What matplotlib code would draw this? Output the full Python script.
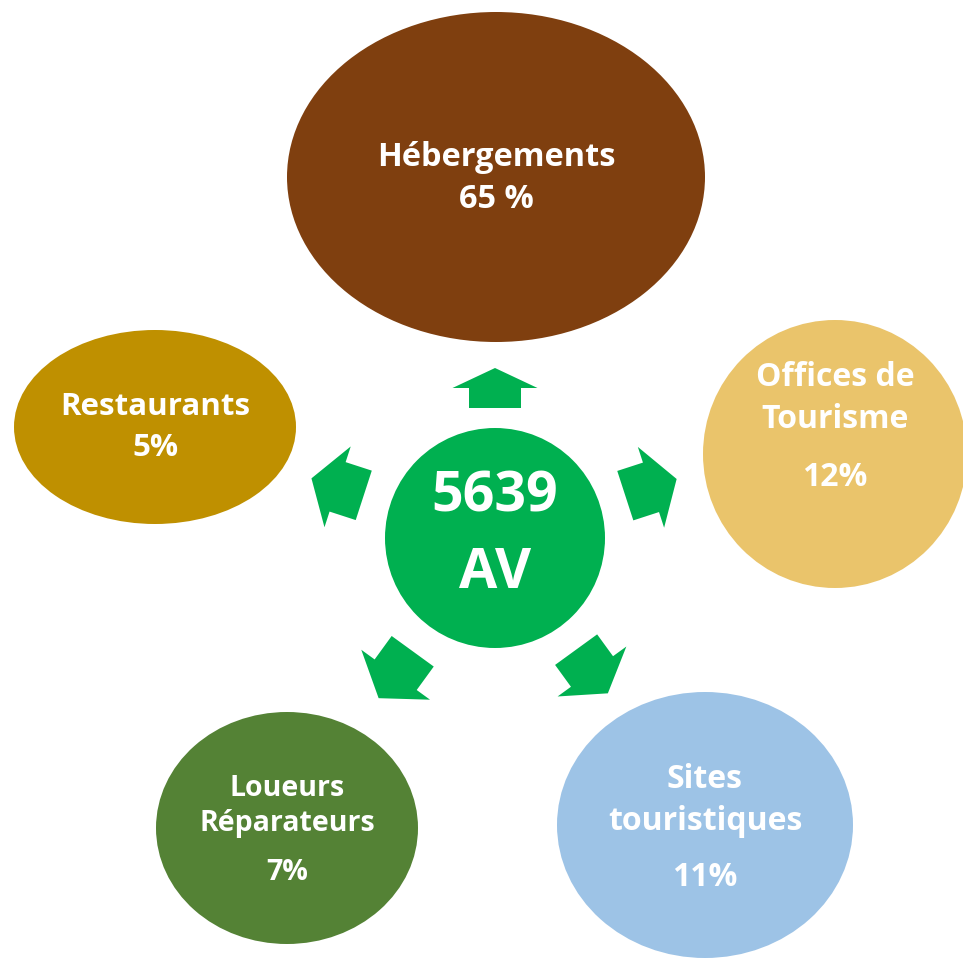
import numpy as np
import matplotlib
matplotlib.use('Agg')
import matplotlib.pyplot as plt
from matplotlib.patches import Ellipse, Circle, FancyArrow

# data
categories = ['Hébergements', 'Offices de\nTourisme', 'Sites\ntouristiques',
              'Loueurs\nRéparateurs', 'Restaurants']
shares = [65, 12, 11, 7, 5]
pct_sep = [' ', '', '', '', '']
total = 5639
unit = 'AV'

# layout (pixel space)
centers = [(496, 177), (835, 454), (705, 825), (287, 828), (155, 427)]
sizes = [(418, 330), (264, 268), (296, 266), (262, 232), (282, 194)]
colors = ['#7F3F0F', '#EAC46B', '#9DC3E6', '#548235', '#BF9000']
name_y = [158, 378, 780, 789, 407]
line_gap = [0, 41, 42, 35, 0]
pct_y = [200, 477, 877, 873, 448]
fsizes = [23.4, 23, 23, 20.5, 22.5]
angles = [90, 18, 306, 234, 162]
arrow_len = [40, 54, 54, 58, 55]
arrow_start = [130, 137, 138, 140, 138]
hub = (495, 538)
hub_r = 110
green = '#00B050'

plt.rcParams['font.family'] = ['Open Sans', 'DejaVu Sans']

fig = plt.figure(figsize=(9.63, 9.6), dpi=100)
ax = fig.add_axes([0, 0, 1, 1])
ax.set_xlim(0, 963)
ax.set_ylim(960, 0)
ax.axis('off')

for i, cat in enumerate(categories):
    cx, cy = centers[i]
    w, h = sizes[i]
    ax.add_patch(Ellipse((cx, cy), w, h, facecolor=colors[i], edgecolor='none'))
    for k, line in enumerate(cat.split('\n')):
        ax.text(cx, name_y[i] + k * line_gap[i], line, ha='center', va='center',
                color='white', fontsize=fsizes[i], fontweight='bold')
    ax.text(cx, pct_y[i], f'{shares[i]}{pct_sep[i]}%', ha='center', va='center',
            color='white', fontsize=fsizes[i], fontweight='bold')

    a = np.deg2rad(angles[i])
    ux, uy = np.cos(a), -np.sin(a)
    L = arrow_len[i]
    sx = hub[0] + ux * arrow_start[i]
    sy = hub[1] + uy * arrow_start[i]
    ax.add_patch(FancyArrow(sx, sy, ux * L, uy * L, width=52, head_width=85,
                            head_length=L / 2, length_includes_head=True,
                            facecolor=green, edgecolor='none'))

ax.add_patch(Circle(hub, hub_r, facecolor=green, edgecolor='none'))
ax.text(hub[0], 497, str(total), ha='center', va='center', color='white',
        fontsize=40, fontweight='bold')
ax.text(hub[0], 573, unit, ha='center', va='center', color='white',
        fontsize=40, fontweight='bold')

fig.savefig('out.png', dpi=100, facecolor='white')
